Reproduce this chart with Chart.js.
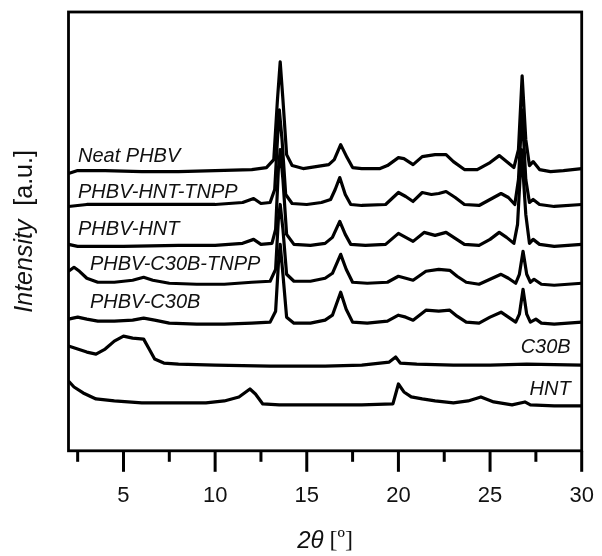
<!DOCTYPE html>
<html lang="en">
<head>
  <meta charset="UTF-8">
  <title>XRD patterns</title>
  <script src="https://cdn.jsdelivr.net/npm/chart.js"></script>
  <style>
    html, body { margin: 0; padding: 0; background: #fff; }
    #wrap { width: 602px; height: 556px; position: relative; }
  </style>
</head>
<body>
  <div id="wrap"><canvas id="xrd"></canvas></div>

  <script>
    // diffraction patterns, [2theta, intensity (a.u., stacked)]
    const neatPHBV = [[2.0,278],[2.5,281],[4,281],[6,280],[8,280],[10,281],[12,282],[12.8,284],[13.2,292],[13.4,352],[13.55,390],[13.7,352],[13.9,297],[14.2,286],[14.8,283],[15.5,285],[16.2,287],[16.5,292],[16.85,307],[17.2,294],[17.5,284],[18,283],[19,283],[19.4,286],[20.0,294],[20.3,293],[20.8,287],[21.3,295],[22.0,297],[22.6,297],[23.0,290],[23.6,282],[24.3,282],[25.0,289],[25.5,296],[25.9,290],[26.3,284],[26.55,302],[26.75,376],[26.95,312],[27.15,286],[27.35,290],[27.7,282],[28.3,280],[29,281],[30,283]];
    const phbvHntTnpp = [[2.0,245],[3,247],[5,247],[8,247],[10,247],[11.5,249],[12.1,253],[12.5,248],[13.0,249],[13.25,262],[13.4,312],[13.5,342],[13.65,312],[13.85,257],[14.2,248],[15,247],[15.8,249],[16.3,252],[16.55,262],[16.8,274],[17.1,257],[17.4,247],[18,246],[19.3,247],[20.0,259],[20.4,255],[20.8,250],[21.3,259],[21.8,257],[22.2,258],[22.6,260],[23.1,254],[23.6,247],[24.4,246],[25.0,252],[25.6,258],[26.0,254],[26.35,247],[26.55,272],[26.75,342],[26.95,272],[27.15,249],[27.35,252],[27.7,247],[28.5,245],[30,247]];
    const phbvHnt = [[2.0,207],[2.5,205],[5,205],[8,206],[10,206],[11.5,208],[12.1,212],[12.5,207],[13.1,208],[13.3,222],[13.45,282],[13.55,302],[13.7,272],[13.9,217],[14.3,207],[15.2,206],[16.0,208],[16.4,214],[16.8,230],[17.1,217],[17.4,207],[18.2,206],[19.3,207],[20.0,218],[20.4,214],[20.8,210],[21.4,219],[22.0,216],[22.6,219],[23.1,213],[23.6,207],[24.4,206],[25.0,212],[25.5,219],[25.9,214],[26.3,208],[26.5,227],[26.72,302],[26.95,237],[27.15,208],[27.35,212],[27.7,207],[28.5,205],[30,207]];
    const phbvC30bTnpp = [[2.0,180],[2.3,184],[2.6,180],[3.0,173],[3.6,169],[4.5,169],[5.5,171],[6.1,174],[6.6,171],[7.5,168],[9,167],[10.5,167],[12,169],[13.0,170],[13.3,182],[13.45,232],[13.55,247],[13.7,222],[13.9,177],[14.3,170],[15.2,170],[16.0,173],[16.4,178],[16.85,197],[17.15,182],[17.5,169],[18.3,168],[19.4,169],[20.0,175],[20.4,173],[20.8,171],[21.5,180],[22.2,182],[22.8,181],[23.2,175],[23.7,169],[24.4,167],[25.0,172],[25.6,177],[26.0,173],[26.4,168],[26.6,177],[26.8,200],[27.0,177],[27.2,169],[27.4,172],[27.8,167],[28.5,166],[30,168]];
    const phbvC30b = [[2.0,132],[2.5,134],[3.0,132],[3.6,130],[4.5,130],[5.5,131],[6.1,133],[6.7,131],[7.5,128],[9,127],[10.5,127],[12,128],[13.0,129],[13.3,140],[13.45,187],[13.55,207],[13.7,177],[13.9,134],[14.3,128],[15.2,128],[16.0,131],[16.4,136],[16.85,159],[17.15,142],[17.5,129],[18.3,128],[19.4,130],[20.0,136],[20.4,134],[20.8,131],[21.5,141],[22.2,140],[22.8,141],[23.2,135],[23.7,129],[24.4,128],[25.0,134],[25.6,139],[26.0,134],[26.4,129],[26.6,137],[26.8,162],[27.0,137],[27.2,129],[27.5,132],[27.8,128],[28.5,127],[30,129]];
    const c30b = [[2.0,105],[2.5,102],[3.0,99],[3.5,97],[4.0,102],[4.5,110],[5.0,115],[5.5,113],[6.1,112],[6.4,102],[6.7,92],[7.2,88],[8,87],[10,86],[13,85],[16,85],[18,86],[19.5,89],[19.85,94],[20.1,88],[21,87],[23,86],[25,86],[27,87],[30,86]];
    const hnt = [[2.0,70],[2.3,64],[2.8,58],[3.5,52],[4.5,50],[6,48],[8,48],[9.5,48],[10.5,50],[11.3,54],[11.9,62],[12.2,57],[12.6,47],[13.5,46],[16,46],[18,46],[19.7,47],[19.85,57],[20.0,67],[20.3,59],[20.7,54],[21.3,52],[22.0,50],[23.0,48],[23.8,50],[24.5,54],[25.2,49],[26.2,46],[26.9,49],[27.2,46],[28.5,45],[30,45]];

    const seriesNames = ['Neat PHBV', 'PHBV-HNT-TNPP', 'PHBV-HNT', 'PHBV-C30B-TNPP', 'PHBV-C30B', 'C30B', 'HNT'];
    const seriesData = [neatPHBV, phbvHntTnpp, phbvHnt, phbvC30bTnpp, phbvC30b, c30b, hnt];
    const xTickValues = [2.5, 5, 7.5, 10, 12.5, 15, 17.5, 20, 22.5, 25, 27.5, 30];

    // where each curve's name sits (2theta, a.u.) and how it is aligned
    const labelSpots = [
      [2.52, 295, 'left'], [2.52, 259, 'left'], [2.52, 222, 'left'],
      [3.17, 187, 'left'], [3.17, 149, 'left'],
      [29.4, 104, 'right'], [29.4, 62, 'right']
    ];

    const SANS = '"Liberation Sans", Arial, sans-serif';
    const SERIF = '"Liberation Serif", "Times New Roman", serif';

    const decor = {
      id: 'decor',
      afterDatasetsDraw(chart) {
        const { ctx, chartArea: a, scales: { x, y } } = chart;
        ctx.save();
        ctx.strokeStyle = '#000';
        ctx.lineWidth = 2.8;
        ctx.strokeRect(a.left, a.top, a.right - a.left, a.bottom - a.top);

        // outward tick marks, long on the labelled ones
        ctx.lineWidth = 3;
        x.ticks.forEach(t => {
          const px = x.getPixelForValue(t.value);
          const len = t.value % 5 === 0 ? 21 : 11;
          ctx.beginPath();
          ctx.moveTo(px, a.bottom);
          ctx.lineTo(px, a.bottom + len);
          ctx.stroke();
        });

        // curve names
        ctx.fillStyle = '#111';
        ctx.font = 'italic 20px ' + SANS;
        ctx.textBaseline = 'middle';
        seriesNames.forEach((name, i) => {
          const [lx, ly, align] = labelSpots[i];
          ctx.textAlign = align;
          ctx.fillText(name, x.getPixelForValue(lx), y.getPixelForValue(ly));
        });

        // axis titles with mixed styles
        ctx.textAlign = 'left';
        const drawParts = (parts, cx, cy) => {
          let total = 0;
          parts.forEach(p => { ctx.font = p.font; p.w = ctx.measureText(p.text).width; total += p.w; });
          let cur = cx - total / 2;
          parts.forEach(p => { ctx.font = p.font; ctx.fillText(p.text, cur, cy); cur += p.w; });
        };
        const midX = (a.left + a.right) / 2;
        drawParts([
          { text: '2θ', font: 'italic 24px ' + SANS },
          { text: ' [º]', font: '24px ' + SERIF }
        ], midX, 541);

        ctx.save();
        ctx.translate(25, (a.top + a.bottom) / 2);
        ctx.rotate(-Math.PI / 2);
        drawParts([
          { text: 'Intensity', font: 'italic 25px ' + SANS },
          { text: '  [a.u.]', font: '25px ' + SANS }
        ], 0, 0);
        ctx.restore();
        ctx.restore();
      }
    };

    new Chart(document.getElementById('xrd'), {
      type: 'line',
      data: {
        datasets: seriesData.map((pts, i) => ({
          label: seriesNames[i],
          data: pts.map(p => ({ x: p[0], y: p[1] })),
          borderColor: '#000',
          borderWidth: 3.2,
          pointRadius: 0,
          tension: 0,
          borderJoinStyle: 'round',
          fill: false
        }))
      },
      options: {
        responsive: true,
        maintainAspectRatio: false,
        animation: false,
        layout: { padding: { left: 68.5, right: 20.3, top: 12, bottom: 46.8 } },
        plugins: { legend: { display: false }, tooltip: { enabled: false } },
        scales: {
          x: {
            type: 'linear',
            min: 2,
            max: 30,
            afterBuildTicks: s => { s.ticks = xTickValues.map(v => ({ value: v })); },
            // invisible tick marks only reserve the gap above the labels
            grid: { display: true, drawOnChartArea: false, tickLength: 32, tickColor: 'rgba(0,0,0,0)' },
            border: { display: false },
            ticks: {
              autoSkip: false,
              maxRotation: 0,
              padding: 0,
              color: '#111',
              font: { family: SANS, size: 22 },
              callback: v => (v % 5 === 0 ? v : '')
            }
          },
          y: { display: false, min: 0, max: 440 }
        }
      },
      plugins: [decor]
    });
  </script>
</body>
</html>
